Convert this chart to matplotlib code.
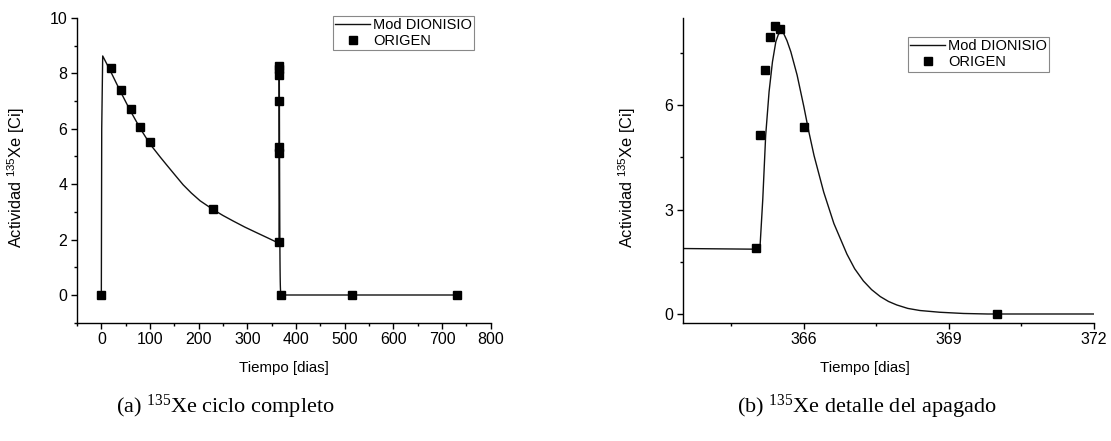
import matplotlib
matplotlib.use("Agg")
import matplotlib.pyplot as plt
from matplotlib.ticker import MultipleLocator

plt.rcParams['font.family'] = ['Liberation Sans', 'DejaVu Sans']
plt.rcParams['mathtext.fontset'] = 'custom'
plt.rcParams['mathtext.rm'] = 'Liberation Sans'
plt.rcParams['mathtext.it'] = 'Liberation Sans:italic'

# ORIGEN results (days, Ci)
t_origen = [0, 20, 40, 60, 80, 100, 230, 365.0, 365.1, 365.2, 365.3, 365.4,
            365.5, 366.0, 370.0, 515, 730]
a_origen = [0.0, 8.18, 7.40, 6.70, 6.07, 5.52, 3.10, 1.90, 5.13, 7.00, 7.95,
            8.27, 8.17, 5.36, 0.0, 0.0, 0.0]

# Mod DIONISIO curve (days, Ci)
t_model = [0, 0.8, 2.8, 18, 38, 59, 80, 100, 121, 134, 150, 168, 185, 203,
           230, 250, 271, 295, 319, 342, 363.5,
           365.09, 365.15, 365.21, 365.28, 365.35, 365.42, 365.47, 365.52,
           365.57, 365.65, 365.73, 365.86, 366.0, 366.1, 366.21, 366.41,
           366.62, 366.89, 367.05, 367.23, 367.4, 367.58, 367.75, 367.92,
           368.15, 368.4, 368.81, 369.3, 369.8, 730]
a_model = [0.0, 6.0, 8.63, 8.11, 7.39, 6.67, 6.01, 5.45, 4.98, 4.70, 4.36,
           3.98, 3.68, 3.40, 3.08, 2.87, 2.67, 2.45, 2.25, 2.06, 1.88,
           1.86, 3.30, 5.13, 6.38, 7.24, 7.82, 8.02, 8.11,
           8.09, 7.85, 7.53, 6.86, 5.95, 5.25, 4.55, 3.50,
           2.60, 1.72, 1.30, 0.95, 0.70, 0.50, 0.36, 0.26,
           0.16, 0.10, 0.05, 0.015, 0.0, 0.0]

W, H = 1111, 441
fig = plt.figure(figsize=(W / 100, H / 100), dpi=100)

def px_axes(x0, x1, ytop, ybot):
    return fig.add_axes([x0 / W, 1 - ybot / H, (x1 - x0) / W, (ybot - ytop) / H])

ax1 = px_axes(77, 490.7, 18, 322.7)
ax2 = px_axes(683, 1094, 18, 322.7)

ylab = r'Actividad $^{135}$Xe [Ci]'
for ax in (ax1, ax2):
    ax.plot(t_model, a_model, color='#111111', lw=1.0, label='Mod DIONISIO', zorder=2)
    ax.plot(t_origen, a_origen, ls='none', marker='s', ms=5.2, color='black',
            label='ORIGEN', zorder=3)
    for s in ('top', 'right'):
        ax.spines[s].set_visible(False)
    for s in ('left', 'bottom'):
        ax.spines[s].set_linewidth(1.0)
    ax.tick_params(which='major', direction='out', length=4, width=1.0,
                   labelsize=11.5, pad=3)
    ax.tick_params(which='minor', direction='out', length=2.5, width=1.0)
    ax.set_xlabel('Tiempo [dias]', fontsize=10.8)
    ax.set_ylabel(ylab, fontsize=11.8)

ax1.set_xlim(-50, 800)
ax1.set_ylim(-1, 10)
ax1.xaxis.set_major_locator(MultipleLocator(100))
ax1.xaxis.set_minor_locator(MultipleLocator(50))
ax1.yaxis.set_major_locator(MultipleLocator(2))
ax1.yaxis.set_minor_locator(MultipleLocator(1))
ax1.yaxis.set_label_coords(-0.121, 0.477)
ax1.xaxis.set_label_coords(0.5, -0.125)

ax2.set_xlim(363.5, 372)
ax2.set_ylim(-0.25, 8.5)
ax2.set_xticks([366, 369, 372])
ax2.xaxis.set_minor_locator(MultipleLocator(1.5))
ax2.set_yticks([0, 3, 6])
ax2.yaxis.set_minor_locator(MultipleLocator(1.5))
ax2.yaxis.set_label_coords(-0.109, 0.477)
ax2.xaxis.set_label_coords(0.443, -0.125)

leg_kw = dict(loc='upper left', fontsize=10.5, frameon=True, fancybox=False,
              edgecolor='#888888', framealpha=1, borderpad=0.15,
              labelspacing=0.15, handlelength=2.4, handletextpad=0.2,
              borderaxespad=0, bbox_transform=fig.transFigure)
l1 = ax1.legend(bbox_to_anchor=(333 / W, 1 - 15.7 / H), **leg_kw)
l2 = ax2.legend(bbox_to_anchor=(908 / W, 1 - 37 / H), **leg_kw)
for lg in (l1, l2):
    lg.get_frame().set_linewidth(0.8)

cap_kw = dict(ha='center', va='center', fontsize=16, family='Liberation Serif',
              math_fontfamily='stix')
fig.text(225 / W, 1 - 407 / H, r'(a) $\mathregular{^{135}}$Xe ciclo completo', **cap_kw)
fig.text(867 / W, 1 - 407 / H, r'(b) $\mathregular{^{135}}$Xe detalle del apagado', **cap_kw)

fig.savefig('out.png', dpi=100)
